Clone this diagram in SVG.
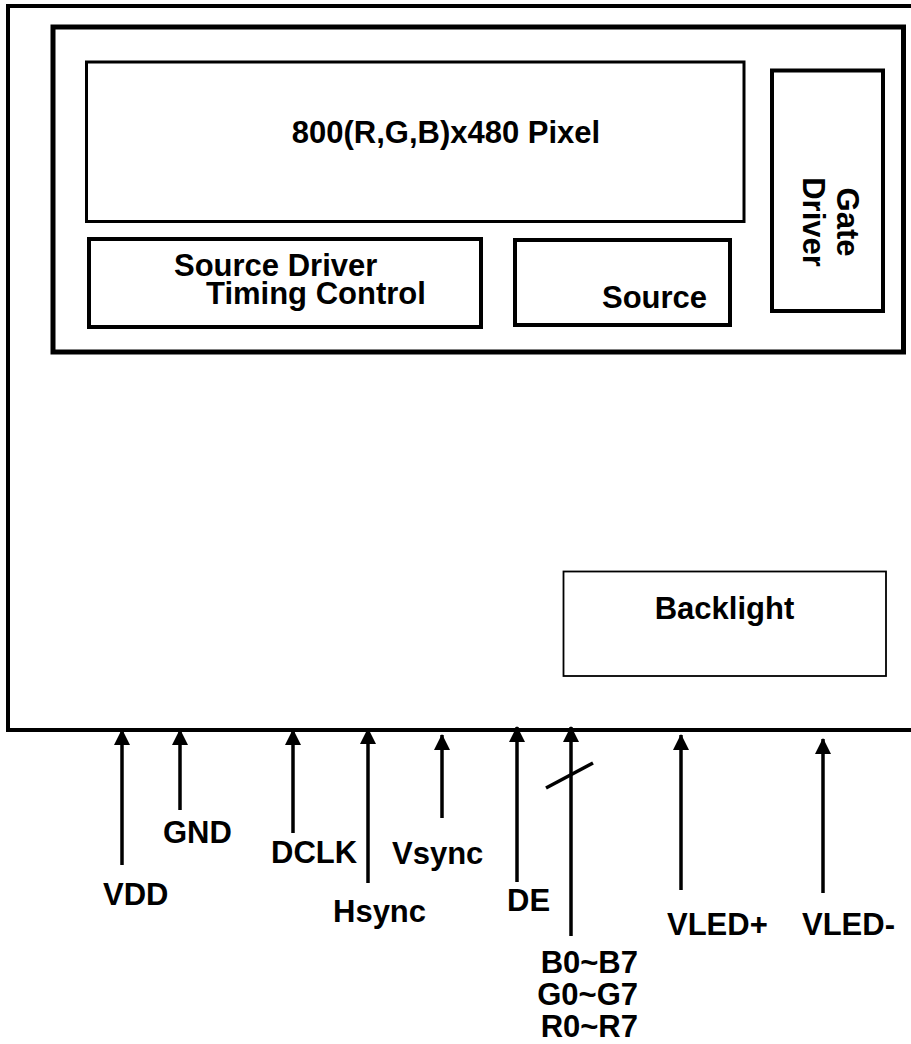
<svg xmlns="http://www.w3.org/2000/svg" width="911" height="1044" viewBox="0 0 911 1044">
<style>
.box{fill:none;stroke:#000}
.t{font-family:"Liberation Sans",Arial,sans-serif;font-weight:bold;font-size:31px;fill:#000}
.w{stroke:#000;stroke-width:3.5;fill:none}
</style>
<defs>
<marker id="ah" markerUnits="userSpaceOnUse" markerWidth="16" markerHeight="16" viewBox="0 0 16 16" refX="15" refY="8" orient="auto">
<path d="M0,0 L16,8 L0,16 Z" fill="#000"/>
</marker>
</defs>
<rect width="911" height="1044" fill="#fff"/>
<g id="module">
<rect class="box" x="8" y="6" width="930" height="724" stroke-width="4"/>
</g>
<g id="panel">
<rect class="box" x="53" y="27" width="850.5" height="325" stroke-width="5"/>
</g>
<g id="pixel">
<rect class="box" x="86.5" y="62" width="657.5" height="159.5" stroke-width="3"/>
<text class="t" x="446" y="143" text-anchor="middle">800(R,G,B)x480 Pixel</text>
</g>
<g id="gate-driver">
<rect class="box" x="772" y="70.5" width="111" height="240.5" stroke-width="4"/>
<text class="t" transform="translate(837,222) rotate(90)" text-anchor="middle">Gate</text>
<text class="t" transform="translate(803,222) rotate(90)" text-anchor="middle">Driver</text>
</g>
<g id="timing-control">
<rect class="box" x="89" y="239" width="392" height="88" stroke-width="4"/>
<text class="t" x="174" y="276">Source Driver</text>
<text class="t" x="206" y="304">Timing Control</text>
</g>
<g id="source">
<rect class="box" x="515" y="240" width="215" height="85" stroke-width="4"/>
<text class="t" x="602" y="308">Source</text>
</g>
<g id="backlight">
<rect class="box" x="563.5" y="571.5" width="322.5" height="104.5" stroke-width="1.8"/>
<text class="t" x="724.5" y="619" text-anchor="middle">Backlight</text>
</g>
<g id="connectors">
<line class="w" x1="122" y1="865" x2="122" y2="730" marker-end="url(#ah)"/>
<line class="w" x1="180" y1="810" x2="180" y2="730" marker-end="url(#ah)"/>
<line class="w" x1="293" y1="833" x2="293" y2="730" marker-end="url(#ah)"/>
<line class="w" x1="368" y1="883" x2="368" y2="729" marker-end="url(#ah)"/>
<line class="w" x1="442" y1="818" x2="442" y2="735" marker-end="url(#ah)"/>
<line class="w" x1="517" y1="882" x2="517" y2="727" marker-end="url(#ah)"/>
<line class="w" x1="571" y1="936" x2="571" y2="727" marker-end="url(#ah)"/>
<line class="w" x1="681" y1="890" x2="681" y2="735" marker-end="url(#ah)"/>
<line class="w" x1="823" y1="893" x2="823" y2="739" marker-end="url(#ah)"/>
<line class="w" x1="546" y1="788" x2="593" y2="763" stroke-width="3"/>
</g>
<g id="labels">
<text class="t" x="103" y="905">VDD</text>
<text class="t" x="163" y="843">GND</text>
<text class="t" x="271" y="863">DCLK</text>
<text class="t" x="333" y="922">Hsync</text>
<text class="t" x="392" y="864">Vsync</text>
<text class="t" x="507" y="911">DE</text>
<text class="t" x="667" y="935">VLED+</text>
<text class="t" x="802" y="935">VLED-</text>
<text class="t" x="638" y="973" text-anchor="end">B0~B7</text>
<text class="t" x="638" y="1005" text-anchor="end">G0~G7</text>
<text class="t" x="638" y="1037" text-anchor="end">R0~R7</text>
</g>
</svg>
